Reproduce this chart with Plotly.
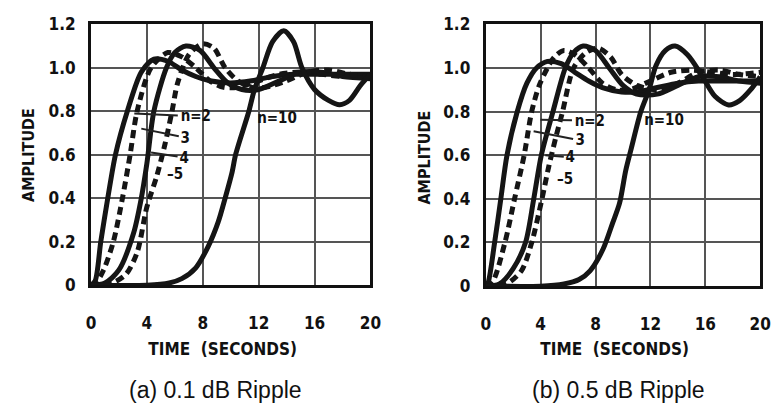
import plotly.graph_objects as go

# ---------------- data ----------------
x_ticks = [0, 4, 8, 12, 16, 20]
y_ticks = [0, 0.2, 0.4, 0.6, 0.8, 1.0, 1.2]
y_ticktext = ["0", "0.2", "0.4", "0.6", "0.8", "1.0", "1.2"]

# (a) 0.1 dB ripple
a_n2_t = [0, 0.3, 0.7, 1.2, 1.75, 2.6, 3.6, 4.5, 5.5, 6.5, 7.5, 8.5, 10, 11.5, 13, 14.5, 16, 17.5, 19, 20]
a_n2_A = [0, 0.02, 0.2, 0.4, 0.6, 0.8, 0.98, 1.04, 1.03, 0.99, 0.96, 0.94, 0.93, 0.94, 0.96, 0.97, 0.97, 0.97, 0.97, 0.97]
a_n3_t = [0, 0.35, 0.9, 1.6, 2.25, 2.8, 3.3, 4.3, 5.5, 6.5, 7.5, 8.5, 9.5, 10.5, 12, 13.5, 15, 16.5, 18, 20]
a_n3_A = [0, 0.01, 0.07, 0.2, 0.4, 0.6, 0.8, 1.0, 1.07, 1.05, 1.0, 0.94, 0.91, 0.91, 0.94, 0.97, 0.98, 0.97, 0.96, 0.97]
a_n4_t = [0, 1.0, 2.0, 3.05, 3.6, 4.0, 4.5, 5.4, 6.0, 6.8, 7.8, 8.8, 9.8, 10.8, 12, 13.5, 15, 16.5, 18, 20]
a_n4_A = [0, 0.01, 0.07, 0.24, 0.40, 0.56, 0.8, 1.0, 1.07, 1.10, 1.08, 1.0, 0.93, 0.9, 0.9, 0.94, 0.98, 0.98, 0.96, 0.95]
a_n5_t = [0, 1.5, 2.5, 3.3, 4.0, 4.7, 5.3, 5.8, 6.2, 7.0, 8.0, 8.8, 9.6, 10.5, 11.5, 12.5, 14, 15.5, 17, 18.5, 20]
a_n5_A = [0, 0.01, 0.05, 0.15, 0.36, 0.50, 0.65, 0.8, 0.93, 1.06, 1.11, 1.09, 1.0, 0.94, 0.91, 0.91, 0.94, 0.98, 0.99, 0.97, 0.96]
a_n10_t = [0, 4, 5.6, 6.5, 7.5, 8.4, 9.1, 9.6, 10.1, 10.35, 11.3, 11.7, 12.3, 13, 13.8, 14.5, 15.1, 16, 17, 17.8, 18.5, 19.3, 20]
a_n10_A = [0, 0, 0.01, 0.03, 0.08, 0.18, 0.29, 0.40, 0.52, 0.6, 0.8, 0.9, 1.0, 1.12, 1.17, 1.12, 1.0, 0.9, 0.85, 0.83, 0.85, 0.92, 0.97]

# (b) 0.5 dB ripple
b_n2_t = [0, 0.15, 0.65, 1.1, 1.55, 2.3, 3.0, 3.7, 4.5, 5.5, 6.5, 7.5, 8.5, 9.9, 11, 12.5, 14, 15.5, 17, 18.5, 20]
b_n2_A = [0, 0.01, 0.2, 0.4, 0.6, 0.8, 0.93, 1.0, 1.03, 1.02, 0.98, 0.94, 0.91, 0.89, 0.89, 0.91, 0.93, 0.94, 0.94, 0.94, 0.94]
b_n3_t = [0, 0.5, 1.4, 2.1, 2.8, 3.35, 3.9, 4.5, 5.0, 5.7, 6.5, 7.5, 8.5, 9.5, 10.5, 12, 13.5, 15, 16.5, 18, 20]
b_n3_A = [0, 0.02, 0.2, 0.4, 0.6, 0.8, 0.92, 1.0, 1.05, 1.08, 1.06, 1.0, 0.93, 0.9, 0.9, 0.94, 0.98, 0.99, 0.98, 0.97, 0.98]
b_n4_t = [0, 1.0, 2.0, 2.9, 3.5, 4.05, 4.9, 5.8, 6.4, 7.1, 8, 9, 10, 11, 12.5, 14, 15.5, 17, 18.5, 20]
b_n4_A = [0, 0.01, 0.08, 0.2, 0.4, 0.6, 0.8, 1.0, 1.07, 1.10, 1.08, 1.0, 0.92, 0.88, 0.88, 0.92, 0.96, 0.96, 0.94, 0.93]
b_n5_t = [0, 1.5, 2.6, 3.35, 4.1, 4.6, 5.1, 5.6, 6.4, 7.3, 8.2, 9.1, 9.9, 11, 12.5, 14, 15.5, 17, 18.5, 20]
b_n5_A = [0, 0.01, 0.07, 0.2, 0.4, 0.55, 0.68, 0.8, 1.0, 1.07, 1.09, 1.05, 0.97, 0.92, 0.90, 0.93, 0.98, 0.99, 0.97, 0.96]
b_n10_t = [0, 4, 5.7, 6.8, 7.6, 8.55, 9.25, 9.75, 10.2, 10.6, 11.3, 11.9, 12.4, 13.1, 13.8, 14.7, 15.7, 16.7, 17.7, 18.5, 19.3, 20]
b_n10_A = [0, 0, 0.01, 0.03, 0.07, 0.17, 0.29, 0.38, 0.53, 0.63, 0.80, 0.90, 1.01, 1.08, 1.10, 1.06, 0.97, 0.87, 0.83, 0.85, 0.90, 0.96]

NARROW = "DejaVu Sans, sans-serif"
REG = "Liberation Sans, Arial, Helvetica, sans-serif"

fig = go.Figure()

def add(t, A, dash, ax):
    fig.add_trace(go.Scatter(
        x=t, y=A, mode="lines", xaxis="x" + ax, yaxis="y" + ax,
        line=dict(color="#151515", width=5, dash=dash, shape="spline", smoothing=0.8),
        showlegend=False, hoverinfo="skip"))

DASH = "8px,5px"
for suffix, curves in (("", [(a_n2_t, a_n2_A, "solid"), (a_n3_t, a_n3_A, DASH),
                             (a_n4_t, a_n4_A, "solid"), (a_n5_t, a_n5_A, DASH),
                             (a_n10_t, a_n10_A, "solid")]),
                       ("2", [(b_n2_t, b_n2_A, "solid"), (b_n3_t, b_n3_A, DASH),
                              (b_n4_t, b_n4_A, "solid"), (b_n5_t, b_n5_A, DASH),
                              (b_n10_t, b_n10_A, "solid")])):
    for t, A, d in curves:
        add(t, A, d, suffix)

xa = dict(range=[0, 20], tickvals=x_ticks, showgrid=True, gridcolor="#555", gridwidth=1.6,
          showline=True, linecolor="#111", linewidth=3, mirror=True, zeroline=False,
          ticks="", ticklabelstandoff=20,
          tickfont=dict(family=NARROW, size=17, color="#111", weight="bold"))
ya = dict(range=[0, 1.2], tickvals=y_ticks, ticktext=y_ticktext, showgrid=True,
          gridcolor="#555", gridwidth=1.6, showline=True, linecolor="#111", linewidth=3,
          mirror=True, zeroline=False, ticks="", ticklabelstandoff=9,
          tickfont=dict(family=NARROW, size=17, color="#111", weight="bold"))

H = 418
W = 783
fig.update_layout(
    width=W, height=H, margin=dict(l=0, r=0, t=0, b=0),
    paper_bgcolor="white", plot_bgcolor="white",
    xaxis=dict(xa, domain=[87 / W, 373 / W], anchor="y"),
    yaxis=dict(ya, domain=[1 - 289 / H, 1 - 15 / H], anchor="x"),
    xaxis2=dict(xa, domain=[491 / W, 772 / W], anchor="y2"),
    yaxis2=dict(ya, domain=[1 - 290 / H, 1 - 15 / H], anchor="x2"),
)

ann = []
def label(text, x, y, ax, ay, xr, yr, arrow=True):
    ann.append(dict(text=text, x=x, y=y, xref=xr, yref=yr, ax=ax, ay=ay,
                    showarrow=arrow, arrowhead=0, arrowwidth=2, arrowcolor="#222",
                    font=dict(family=NARROW, size=15, color="#111", weight="bold")))

label("n=2", 3.1, 0.79, 62, 3, "x", "y")
label("3", 3.6, 0.72, 44, 9, "x", "y")
label("4", 4.3, 0.61, 33, 5, "x", "y")
label("\u20135", 6.0, 0.51, 0, 0, "x", "y", arrow=False)
label("n=10", 13.3, 0.77, 0, 0, "x", "y", arrow=False)
label("n=2", 3.99, 0.763, 50, 1, "x2", "y2")
label("3", 3.49, 0.71, 46, 9, "x2", "y2")
label("4", 4.34, 0.60, 25, 2, "x2", "y2")
label("\u20135", 5.8, 0.49, 0, 0, "x2", "y2", arrow=False)
label("n=10", 13.0, 0.76, 0, 0, "x2", "y2", arrow=False)

def ptext(text, px, py, size, family, bold=True, angle=0):
    ann.append(dict(text=text, x=px / W, y=1 - py / H, xref="paper", yref="paper",
                    showarrow=False, textangle=angle, xanchor="center", yanchor="middle",
                    font=dict(family=family, size=size, color="#111",
                              weight="bold" if bold else "normal")))

ptext("AMPLITUDE", 23, 152, 16, NARROW, angle=-90)
ptext("AMPLITUDE", 428, 155, 16, NARROW, angle=-90)
ptext("TIME  (SECONDS)", 222, 356, 17, NARROW)
ptext("TIME  (SECONDS)", 623, 356, 17, NARROW)
ptext("(a) 0.1 dB Ripple", 214, 399, 23, REG, bold=False)
ptext("(b) 0.5 dB Ripple", 627, 399, 23, REG, bold=False)

fig.update_layout(annotations=ann)

css = ("var s=document.createElement('style');"
       "s.textContent='svg text{font-stretch:condensed !important;}';"
       "document.head.appendChild(s);")
fig.write_html("out.html", post_script=css)
